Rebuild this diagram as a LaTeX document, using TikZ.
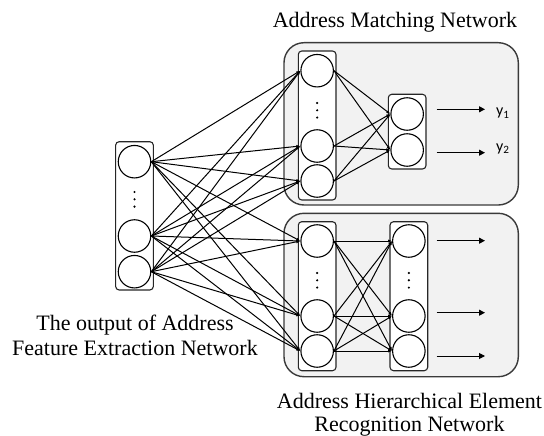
\documentclass[tikz,border=0pt]{standalone}
\usepackage{fontspec}
\setmainfont{Liberation Serif}
\newfontfamily\labfont{Carlito}
\usetikzlibrary{arrows.meta}
\definecolor{panelfill}{HTML}{F2F2F2}
\definecolor{paneldraw}{HTML}{3A3A3A}
\tikzset{
  panel/.style={draw=paneldraw, line width=1.4pt, fill=panelfill, rounded corners=20pt, rectangle, inner sep=0pt},
  colbox/.style={draw=black!85, line width=1.1pt, fill=white, rounded corners=3.5pt, rectangle, inner sep=0pt, minimum width=37.7pt},
  neuron/.style={draw=black, line width=1.1pt, fill=white, circle, inner sep=0pt, minimum size=32.5pt},
  conn/.style={line width=1pt, -{Latex[length=4pt,width=3.2pt]}},
  outarrow/.style={line width=1pt, -{Triangle[length=6pt,width=6pt]}},
  dotmark/.style={fill=black, circle, inner sep=0pt, minimum size=2.4pt},
  bigtext/.style={font=\fontsize{22}{25}\selectfont, inner sep=0pt, anchor=base},
  ylab/.style={font=\labfont\fontsize{16}{18}\selectfont, inner sep=0pt, anchor=base west}
}
\begin{document}
\begin{tikzpicture}[x=1pt,y=-1pt]
\useasboundingbox (0,0) rectangle (544,436);
% panels
\node[panel, minimum width=234.3pt, minimum height=162.3pt] (top) at (401.15,123.85) {};
\node[panel, minimum width=234.3pt, minimum height=163.4pt] (bot) at (401.15,295) {};
% column boxes
\node[colbox, minimum height=148.3pt] (Lbox) at (134.5,215.85) {};
\node[colbox, minimum height=149pt] (Abox) at (317.15,125.5) {};
\node[colbox, minimum height=74.7pt] (Obox) at (407.15,131.65) {};
\node[colbox, minimum height=149pt] (Bbox) at (317.15,296.2) {};
\node[colbox, minimum height=149pt] (Cbox) at (408.85,296.2) {};
% neurons
\node[neuron] (l1) at (134.5,161.7) {};
\node[neuron] (l2) at (134.5,236) {};
\node[neuron] (l3) at (134.5,271.7) {};
\node[neuron] (a1) at (317.15,70.7) {};
\node[neuron] (a2) at (317.15,146) {};
\node[neuron] (a3) at (317.15,181) {};
\node[neuron] (o1) at (407.15,114) {};
\node[neuron] (o2) at (407.15,150) {};
\node[neuron] (b1) at (317.15,241) {};
\node[neuron] (b2) at (317.15,316) {};
\node[neuron] (b3) at (317.15,351) {};
\node[neuron] (c1) at (408.85,241) {};
\node[neuron] (c2) at (408.85,316) {};
\node[neuron] (c3) at (408.85,351) {};
% vertical dots
\foreach \n/\x/\y in {ld/134.5/192, ad/317.15/103, bd/317.15/273, cd/408.85/273}{
  \node[dotmark] (\n1) at (\x,\y) {};
  \node[dotmark] (\n2) at (\x,\y+7.3) {};
  \node[dotmark] (\n3) at (\x,\y+14.6) {};
}
% connections input -> both networks
\foreach \s in {l1,l2,l3}{
  \foreach \t in {a1,a2,a3,b1,b2,b3}{
    \draw[conn] (\s.east) -- (\t.west);
  }
}
\foreach \s in {a1,a2,a3}{
  \foreach \t in {o1,o2}{
    \draw[conn] (\s.east) -- (\t.west);
  }
}
\foreach \s in {b1,b2,b3}{
  \foreach \t in {c1,c2,c3}{
    \draw[conn] (\s.east) -- (\t.west);
  }
}
% output arrows
\coordinate (p1s) at (436.7,109.3); \coordinate (p1e) at (485,109.3);
\coordinate (p2s) at (436.7,152.7); \coordinate (p2e) at (485,152.7);
\coordinate (q1s) at (436.7,240.7); \coordinate (q1e) at (485,240.7);
\coordinate (q2s) at (436.7,312.7); \coordinate (q2e) at (485,312.7);
\coordinate (q3s) at (436.7,356); \coordinate (q3e) at (485,356);
\draw[outarrow] (p1s) -- (p1e);
\draw[outarrow] (p2s) -- (p2e);
\draw[outarrow] (q1s) -- (q1e);
\draw[outarrow] (q2s) -- (q2e);
\draw[outarrow] (q3s) -- (q3e);
\node[ylab] (y1) at (496,116) {y\textsubscript{1}};
\node[ylab] (y2) at (496,151) {y\textsubscript{2}};
% titles
\node[bigtext] (tA) at (395,28) {Address Matching Network};
\node[bigtext] (tL1) at (135,330) {The output of Address};
\node[bigtext] (tL2) at (135,355) {Feature Extraction Network};
\node[bigtext] (tB1) at (409.5,408) {Address Hierarchical Element};
\node[bigtext] (tB2) at (409.5,431) {Recognition Network};
\end{tikzpicture}
\end{document}
